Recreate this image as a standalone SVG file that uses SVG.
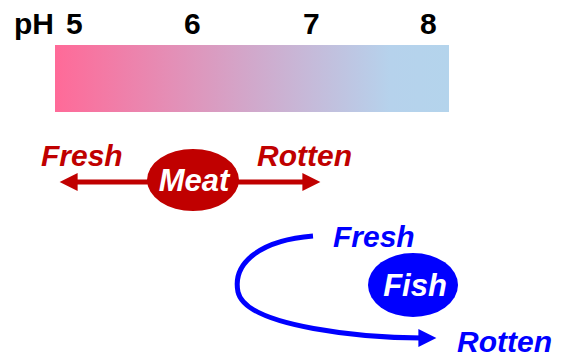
<svg xmlns="http://www.w3.org/2000/svg" width="569" height="360" viewBox="0 0 569 360">
<style>
.ph{font-family:"Liberation Sans",Arial,sans-serif;font-weight:bold;font-size:30px;fill:#000}
.lbl{font-family:"Liberation Sans",Arial,sans-serif;font-weight:bold;font-style:italic;font-size:30px}
.red{fill:#c00000}
.blue{fill:#0000ff}
.white{fill:#fff;font-size:31px}
</style>
<defs>
<linearGradient id="g" x1="0" y1="0" x2="1" y2="0">
<stop offset="0" stop-color="#ff6a98"/>
<stop offset="0.5" stop-color="#d1a8cb"/>
<stop offset="0.85" stop-color="#b6d2ec"/>
<stop offset="1" stop-color="#b4d4ec"/>
</linearGradient>
<marker id="ar" viewBox="0 0 10 10" refX="2" refY="5" markerWidth="4" markerHeight="3.6" orient="auto-start-reverse" markerUnits="strokeWidth">
<path d="M0,0 L10,5 L0,10 z" fill="#c00000"/>
</marker>
<marker id="ab" viewBox="0 0 10 10" refX="2" refY="5" markerWidth="4" markerHeight="3.6" orient="auto" markerUnits="strokeWidth">
<path d="M0,0 L10,5 L0,10 z" fill="#0000ff"/>
</marker>
</defs>
<g id="scale">
<rect x="55" y="45" width="394" height="67" fill="url(#g)"/>
<text class="ph" x="14" y="34">pH</text>
<text class="ph" x="66" y="34">5</text>
<text class="ph" x="184" y="34">6</text>
<text class="ph" x="303" y="34">7</text>
<text class="ph" x="420" y="34">8</text>
</g>
<g id="connectors">
<line x1="74" y1="182" x2="306" y2="182" stroke="#c00000" stroke-width="5" marker-start="url(#ar)" marker-end="url(#ar)"/>
<path d="M313,236 C262,240 232,262 238,292 C246,328 370,338 422,338" fill="none" stroke="#0000ff" stroke-width="5" marker-end="url(#ab)"/>
</g>
<g id="meat">
<ellipse cx="193" cy="180" rx="46" ry="31" fill="#c00000"/>
<text class="lbl white" x="194" y="191" text-anchor="middle">Meat</text>
</g>
<g id="meat-fresh"><text class="lbl red" x="41" y="166">Fresh</text></g>
<g id="meat-rotten"><text class="lbl red" x="257" y="166">Rotten</text></g>
<g id="fish">
<ellipse cx="413" cy="285" rx="45" ry="32" fill="#0000ff"/>
<text class="lbl white" x="415" y="296" text-anchor="middle">Fish</text>
</g>
<g id="fish-fresh"><text class="lbl blue" x="333" y="247">Fresh</text></g>
<g id="fish-rotten"><text class="lbl blue" x="457" y="352">Rotten</text></g>
</svg>
